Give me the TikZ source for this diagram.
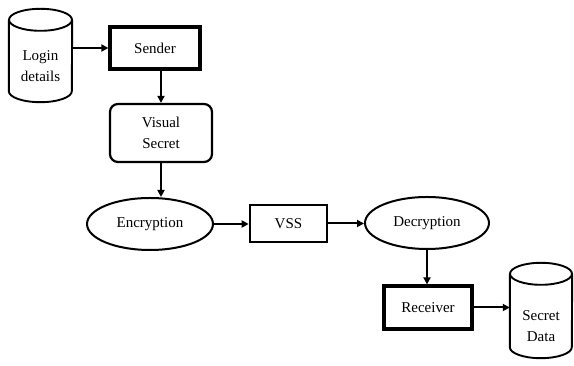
\documentclass[tikz,border=0pt]{standalone}
\usepackage{fontspec}
\setmainfont{Liberation Serif}
\usetikzlibrary{arrows.meta,shapes.geometric}

\tikzset{
  lbl/.style={font=\fontsize{15}{21}\selectfont, align=center, text=black},
  heavybox/.style={lbl, draw, rectangle, line width=3.2pt, inner sep=0pt},
  midbox/.style={lbl, draw, rectangle, line width=2.6pt, inner sep=0pt},
  softbox/.style={lbl, draw, rectangle, rounded corners=8pt, line width=2.2pt, inner sep=0pt},
  oval/.style={lbl, draw, ellipse, line width=2pt, inner sep=0pt},
  dbbody/.style={rectangle, inner sep=0pt},
  dbline/.style={line width=1.9pt},
  flow/.style={line width=2pt, -{Triangle[length=7pt,width=7pt]}},
}

\begin{document}
\begin{tikzpicture}[x=1pt,y=1pt]
\useasboundingbox (0,0) rectangle (574,366);

% database: login details
\node[dbbody, minimum width=63pt, minimum height=93pt] (login) at (40.5,310.5) {};
\draw[dbline] ([yshift=-11pt]login.north west) -- ([yshift=11pt]login.south west)
  arc[start angle=180, end angle=360, x radius=31.5pt, y radius=11pt]
  -- ([yshift=-11pt]login.north east);
\draw[dbline] ([yshift=-11pt]login.north) ellipse[x radius=31.5pt, y radius=11pt];
\node[lbl] (logintext) at (40.5,300) {Login\\details};

% database: secret data
\node[dbbody, minimum width=62pt, minimum height=95pt] (secret) at (541,55.5) {};
\draw[dbline] ([yshift=-11pt]secret.north west) -- ([yshift=11pt]secret.south west)
  arc[start angle=180, end angle=360, x radius=31pt, y radius=11pt]
  -- ([yshift=-11pt]secret.north east);
\draw[dbline] ([yshift=-11pt]secret.north) ellipse[x radius=31pt, y radius=11pt];
\node[lbl] (secrettext) at (541,40) {Secret\\Data};

% process boxes
\node[heavybox, minimum width=90pt, minimum height=42pt] (sender) at (155,318) {Sender};
\node[softbox, minimum width=102pt, minimum height=58pt] (visual) at (161,233) {Visual\\Secret};
\node[oval, minimum width=126pt, minimum height=52pt] (enc) at (150,142) {Encryption};
\node[midbox, minimum width=77pt, minimum height=37pt] (vss) at (288.5,142.5) {VSS};
\node[oval, minimum width=124pt, minimum height=52pt] (dec) at (427,143) {Decryption};
\node[heavybox, minimum width=88pt, minimum height=43pt] (receiver) at (428,58.5) {Receiver};

% flow
\draw[flow] (login.east |- sender.west) -- (sender.west);
\draw[flow] (visual.north |- sender.south) -- (visual.north);
\draw[flow] (visual.south) -- (visual.south |- enc.north);
\draw[flow] (enc.east) -- (enc.east -| vss.west);
\draw[flow] (vss.east) -- (vss.east -| dec.west);
\draw[flow] (dec.south) -- (dec.south |- receiver.north);
\draw[flow] (receiver.east) -- (receiver.east -| secret.west);
\end{tikzpicture}
\end{document}
